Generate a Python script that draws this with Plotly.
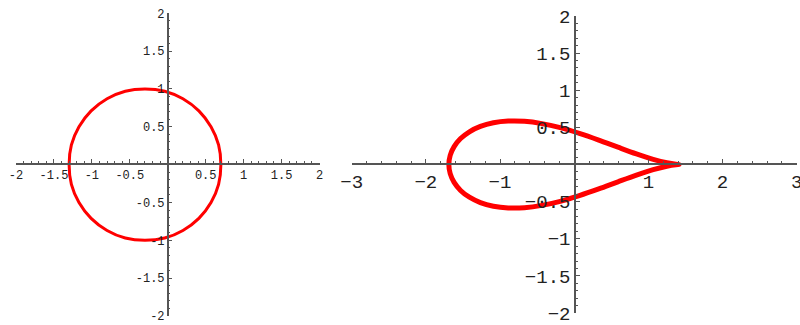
import plotly.graph_objects as go

# points (circle), going counter-clockwise from the right
circle_x = [0.70, 0.67, 0.57, 0.41, 0.20, -0.04, -0.30, -0.56, -0.80, -1.01, -1.17, -1.27, -1.30,
            -1.27, -1.17, -1.01, -0.80, -0.56, -0.30, -0.04, 0.20, 0.41, 0.57, 0.67, 0.70]
circle_y = [0.00, 0.26, 0.50, 0.71, 0.87, 0.97, 1.00, 0.97, 0.87, 0.71, 0.50, 0.26, 0.00,
            -0.26, -0.50, -0.71, -0.87, -0.97, -1.00, -0.97, -0.87, -0.71, -0.50, -0.26, 0.00]

# points (teardrop), starting at the cusp
drop_x = [1.414, 1.371, 1.249, 1.065, 0.839, 0.590, 0.331, 0.069, -0.188, -0.436, -0.671,
          -0.890, -1.089, -1.265, -1.413, -1.532, -1.619, -1.672, -1.690,
          -1.672, -1.619, -1.532, -1.413, -1.265, -1.089, -0.890, -0.671, -0.436, -0.188,
          0.069, 0.331, 0.590, 0.839, 1.065, 1.249, 1.371, 1.414]
drop_y = [0.0, 0.003, 0.023, 0.070, 0.143, 0.233, 0.329, 0.419, 0.496, 0.551, 0.582,
          0.585, 0.562, 0.513, 0.441, 0.349, 0.241, 0.123, 0.0,
          -0.123, -0.241, -0.349, -0.441, -0.513, -0.562, -0.585, -0.582, -0.551, -0.496,
          -0.419, -0.329, -0.233, -0.143, -0.070, -0.023, -0.003, 0.0]

left_ticks = [-2, -1.5, -1, -0.5, 0.5, 1, 1.5, 2]
left_labels = ['-2', '-1.5', '-1', '-0.5', '0.5', '1', '1.5', '2']
right_xticks = [-3, -2, -1, 1, 2, 3]
right_xlabels = ['\u22123', '\u22122', '\u22121', '1', '2', '3']
right_yticks = [-2, -1.5, -1, -0.5, 0.5, 1, 1.5, 2]
right_ylabels = ['\u22122', '\u22121.5', '\u22121', '\u22120.5', '0.5', '1', '1.5', '2']

AXIS_COLOR = '#555555'


def axis_style(rng, domain, position, ticks, labels, minor_step, font_size):
    return {
        'range': rng,
        'domain': domain,
        'anchor': 'free',
        'position': position,
        'automargin': False,
        'showgrid': False,
        'zeroline': False,
        'showline': True,
        'linecolor': AXIS_COLOR,
        'linewidth': 1.5,
        'ticks': 'inside',
        'ticklen': 4,
        'tickwidth': 1,
        'tickcolor': AXIS_COLOR,
        'tickmode': 'array',
        'tickvals': ticks,
        'ticktext': labels,
        'ticklabeloverflow': 'allow',
        'tickfont': {'family': 'Liberation Mono', 'size': font_size, 'color': '#222222'},
        'minor': {'ticks': 'inside', 'ticklen': 2, 'tickcolor': AXIS_COLOR,
                  'tickmode': 'linear', 'tick0': 0, 'dtick': minor_step},
        'fixedrange': True,
    }


def build_figure() -> go.Figure:
    figure = go.Figure()
    figure.add_trace(go.Scatter(
        x=circle_x, y=circle_y, mode='lines', line={'color': '#ff0000', 'width': 3, 'shape': 'spline'},
        hoverinfo='skip', xaxis='x', yaxis='y',
    ))
    figure.add_trace(go.Scatter(
        x=drop_x, y=drop_y, mode='lines', line={'color': '#ff0000', 'width': 5, 'shape': 'spline'},
        hoverinfo='skip', xaxis='x2', yaxis='y2',
    ))
    origin_y = (325 - 164) / 325
    figure.update_layout(
        width=800,
        height=325,
        margin={'l': 0, 'r': 0, 't': 0, 'b': 0},
        paper_bgcolor='white',
        plot_bgcolor='white',
        showlegend=False,
        xaxis=axis_style([-2, 2], [16 / 800, 319.5 / 800], origin_y,
                         left_ticks, left_labels, 0.1, 12),
        yaxis=axis_style([-2, 2], [9 / 325, 311.7 / 325], 167.7 / 800,
                         left_ticks, left_labels, 0.1, 12),
        xaxis2=axis_style([-3, 3], [351.7 / 800, 796.7 / 800], origin_y,
                          right_xticks, right_xlabels, 0.2, 19),
        yaxis2=axis_style([-2, 2], [12 / 325, 309 / 325], 575 / 800,
                          right_yticks, right_ylabels, 0.1, 19),
    )
    return figure


fig = build_figure()
# drop the browser's default page margin so the figure sits at the window's corner
fig.write_html('out.html', config={'displayModeBar': False},
               post_script="document.body.style.margin = '0';")
